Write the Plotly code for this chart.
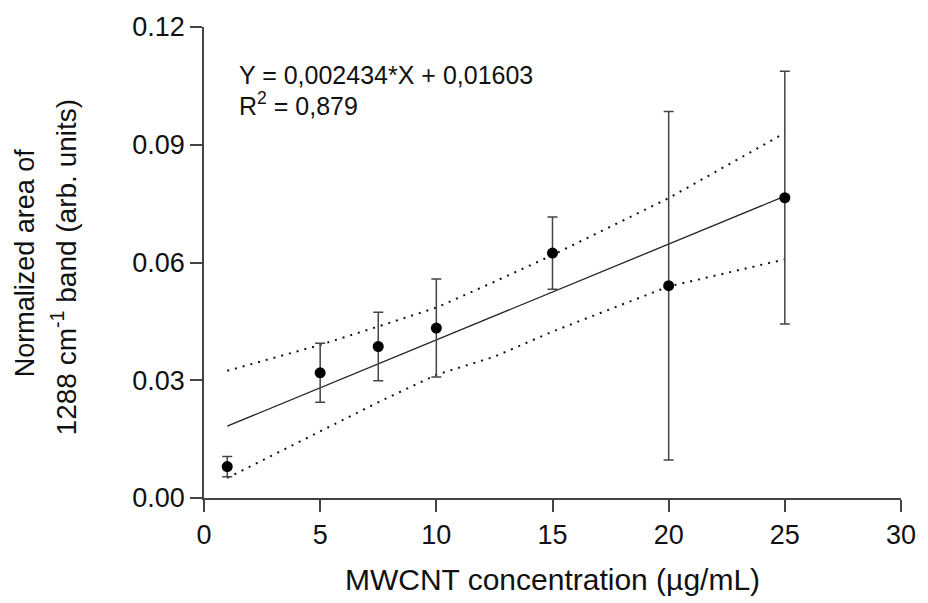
import plotly.graph_objects as go

# Measured data (mean ± SD)
conc = [1, 5, 7.5, 10, 15, 20, 25]
area = [0.0080, 0.0319, 0.0386, 0.0433, 0.0624, 0.0541, 0.0765]
sd = [0.0026, 0.0075, 0.0087, 0.0125, 0.0092, 0.0444, 0.0322]

# Linear fit line
fit_x = [1, 25]
fit_y = [0.0183, 0.0769]

# 95% confidence band
band_x = [1, 5, 7.5, 10, 12.5, 15, 20, 25]
band_upper = [0.0324, 0.0390, 0.0437, 0.0485, 0.0551, 0.0619, 0.0764, 0.0930]
band_lower = [0.0051, 0.0169, 0.0244, 0.0314, 0.0360, 0.0424, 0.0539, 0.0608]

x_ticks = [0, 5, 10, 15, 20, 25, 30]
y_ticks = [0.00, 0.03, 0.06, 0.09, 0.12]

FONT = "Liberation Sans, Arial, sans-serif"
AX = "#444444"
TXT = "#111111"

fig = go.Figure()
dot = dict(color="#111111", width=2, dash="2px,6px")
fig.add_trace(go.Scatter(x=band_x, y=band_upper, mode="lines", line=dot, hoverinfo="skip"))
fig.add_trace(go.Scatter(x=band_x, y=band_lower, mode="lines", line=dot, hoverinfo="skip"))
fig.add_trace(go.Scatter(x=fit_x, y=fit_y, mode="lines", line=dict(color="#222222", width=1.3)))
fig.add_trace(go.Scatter(
    x=conc, y=area, mode="markers",
    marker=dict(color="black", size=11),
    error_y=dict(type="data", array=sd, visible=True, color="#444444", thickness=1.5, width=5),
))

fig.add_annotation(x=1.44, y=0.1078, xref="x", yref="y", xanchor="left", yanchor="middle",
                   text="Y = 0,002434*X + 0,01603", showarrow=False,
                   font=dict(family=FONT, size=25, color=TXT))
fig.add_annotation(x=1.44, y=0.1005, xref="x", yref="y", xanchor="left", yanchor="middle",
                   text="R<sup>2</sup> = 0,879", showarrow=False,
                   font=dict(family=FONT, size=25, color=TXT))

# y-axis title, two lines
fig.add_annotation(x=-0.2572, y=0.5, xref="paper", yref="paper", xanchor="center", yanchor="middle",
                   textangle=-90, text="Normalized area of", showarrow=False,
                   font=dict(family=FONT, size=27, color=TXT))
fig.add_annotation(x=-0.2006, y=0.49, xref="paper", yref="paper", xanchor="center", yanchor="middle",
                   textangle=-90, text="1288 cm<sup>-1</sup> band (arb. units)", showarrow=False,
                   font=dict(family=FONT, size=28, color=TXT))

fig.update_layout(
    width=928, height=603,
    margin=dict(l=204, r=16, t=27, b=105),
    paper_bgcolor="white", plot_bgcolor="white",
    showlegend=False,
    font=dict(family=FONT, color=TXT),
)
fig.update_xaxes(
    range=[0, 30], tickvals=x_ticks, ticks="outside", ticklen=12, tickwidth=1.5, tickcolor=AX,
    showline=True, linecolor=AX, linewidth=1.5, showgrid=False, zeroline=False,
    tickfont=dict(family=FONT, size=27, color=TXT),
    title=dict(text="MWCNT concentration (µg/mL)", font=dict(family=FONT, size=30, color=TXT), standoff=20),
)
fig.update_yaxes(
    range=[0, 0.12], tickvals=y_ticks, tickformat=".2f", ticks="outside", ticklen=12, tickwidth=1.5,
    tickcolor=AX, showline=True, linecolor=AX, linewidth=1.5, showgrid=False, zeroline=False,
    tickfont=dict(family=FONT, size=27, color=TXT),
)

fig.write_html("out.html")
